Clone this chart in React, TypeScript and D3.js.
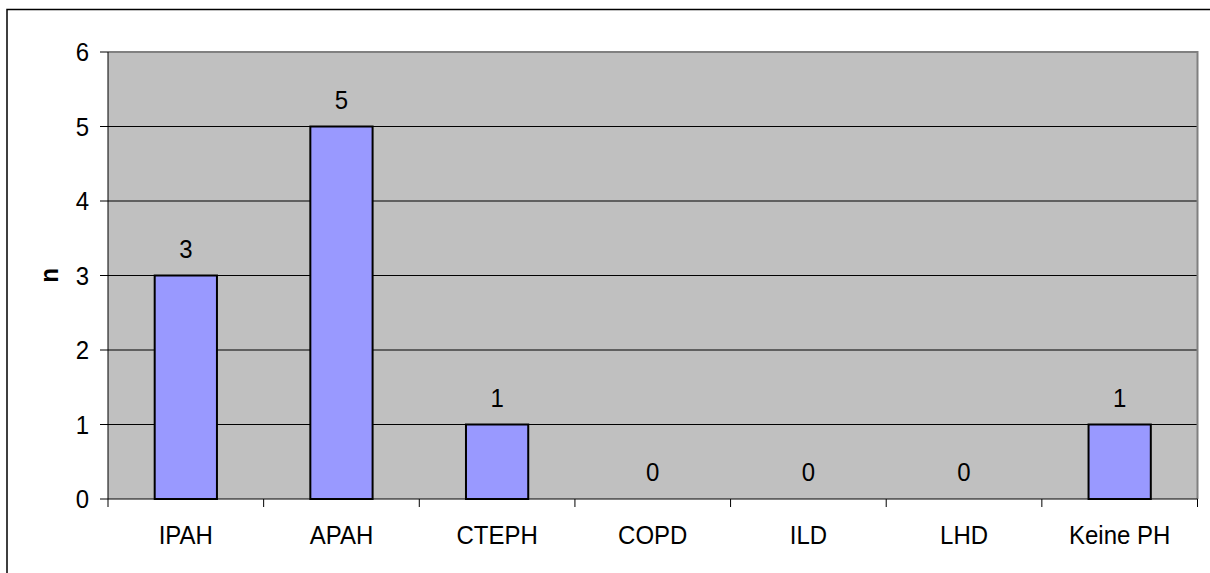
import React from "react";
import * as d3 from "d3";

const categories = ["IPAH", "APAH", "CTEPH", "COPD", "ILD", "LHD", "Keine PH"];
const values = [3, 5, 1, 0, 0, 0, 1];
const yTicks = [0, 1, 2, 3, 4, 5, 6];

export default function App() {
  const W = 1210, H = 573;
  const left = 108, right = 1197.5, top = 52, bottom = 499;
  const x = d3.scaleBand<string>().domain(categories).range([left, right]).paddingInner(0.6).paddingOuter(0.3);
  const xb = d3.scaleBand<string>().domain(categories).range([left, right]);
  const y = d3.scaleLinear().domain([0, 6]).range([bottom, top]);
  const font = "Arial, 'Liberation Sans', sans-serif";
  const T = (props: { x: number; y: number; anchor: string; children: any; bold?: boolean; rotate?: boolean }) => (
    <text
      transform={`translate(${props.x},${props.y})${props.rotate ? " rotate(-90)" : ""} scale(1,1.1)`}
      textAnchor={props.anchor}
      fontFamily={font}
      fontSize={24}
      fontWeight={props.bold ? "bold" : "normal"}
      fill="#000"
    >
      {props.children}
    </text>
  );
  return (
    <svg width={W} height={H} style={{ position: "absolute", left: 0, top: 0 }}>
      <rect x={0} y={0} width={W} height={H} fill="#fff" />
      <rect x={7} y={9.5} width={W + 10} height={H + 10} fill="none" stroke="#000" strokeWidth={1.5} />
      <rect x={left} y={top} width={right - left} height={bottom - top} fill="#C0C0C0" />
      {yTicks.filter(t => t > 0 && t < 6).map(t => (
        <line key={t} x1={left} x2={right} y1={y(t)} y2={y(t)} stroke="#000" strokeWidth={1} />
      ))}
      <polyline points={`${left},${top} ${right},${top} ${right},${bottom}`} fill="none" stroke="#808080" strokeWidth={2} />
      {categories.map((c, i) => values[i] > 0 ? (
        <rect key={c} x={x(c)!} y={y(values[i])} width={x.bandwidth()} height={y(0) - y(values[i])}
          fill="#9999FF" stroke="#000" strokeWidth={2} />
      ) : null)}
      <line x1={left} x2={left} y1={top} y2={bottom} stroke="#000" strokeWidth={1} />
      <line x1={left} x2={right} y1={bottom} y2={bottom} stroke="#000" strokeWidth={1} />
      {yTicks.map(t => (
        <g key={t}>
          <line x1={100} x2={left} y1={y(t)} y2={y(t)} stroke="#000" strokeWidth={1} />
          <T x={89} y={y(t) + 9} anchor="end">{t}</T>
        </g>
      ))}
      {categories.concat(["_end"]).map((c, i) => {
        const xx = left + i * xb.step();
        return <line key={c} x1={xx} x2={xx} y1={bottom} y2={bottom + 8} stroke="#000" strokeWidth={1} />;
      })}
      {categories.map(c => (
        <T key={c} x={xb(c)! + xb.bandwidth() / 2} y={544} anchor="middle">{c}</T>
      ))}
      {categories.map((c, i) => (
        <T key={c} x={x(c)! + x.bandwidth() / 2} y={y(values[i]) - 18} anchor="middle">{values[i]}</T>
      ))}
      <T x={58} y={(top + bottom) / 2} anchor="middle" bold rotate>n</T>
    </svg>
  );
}
